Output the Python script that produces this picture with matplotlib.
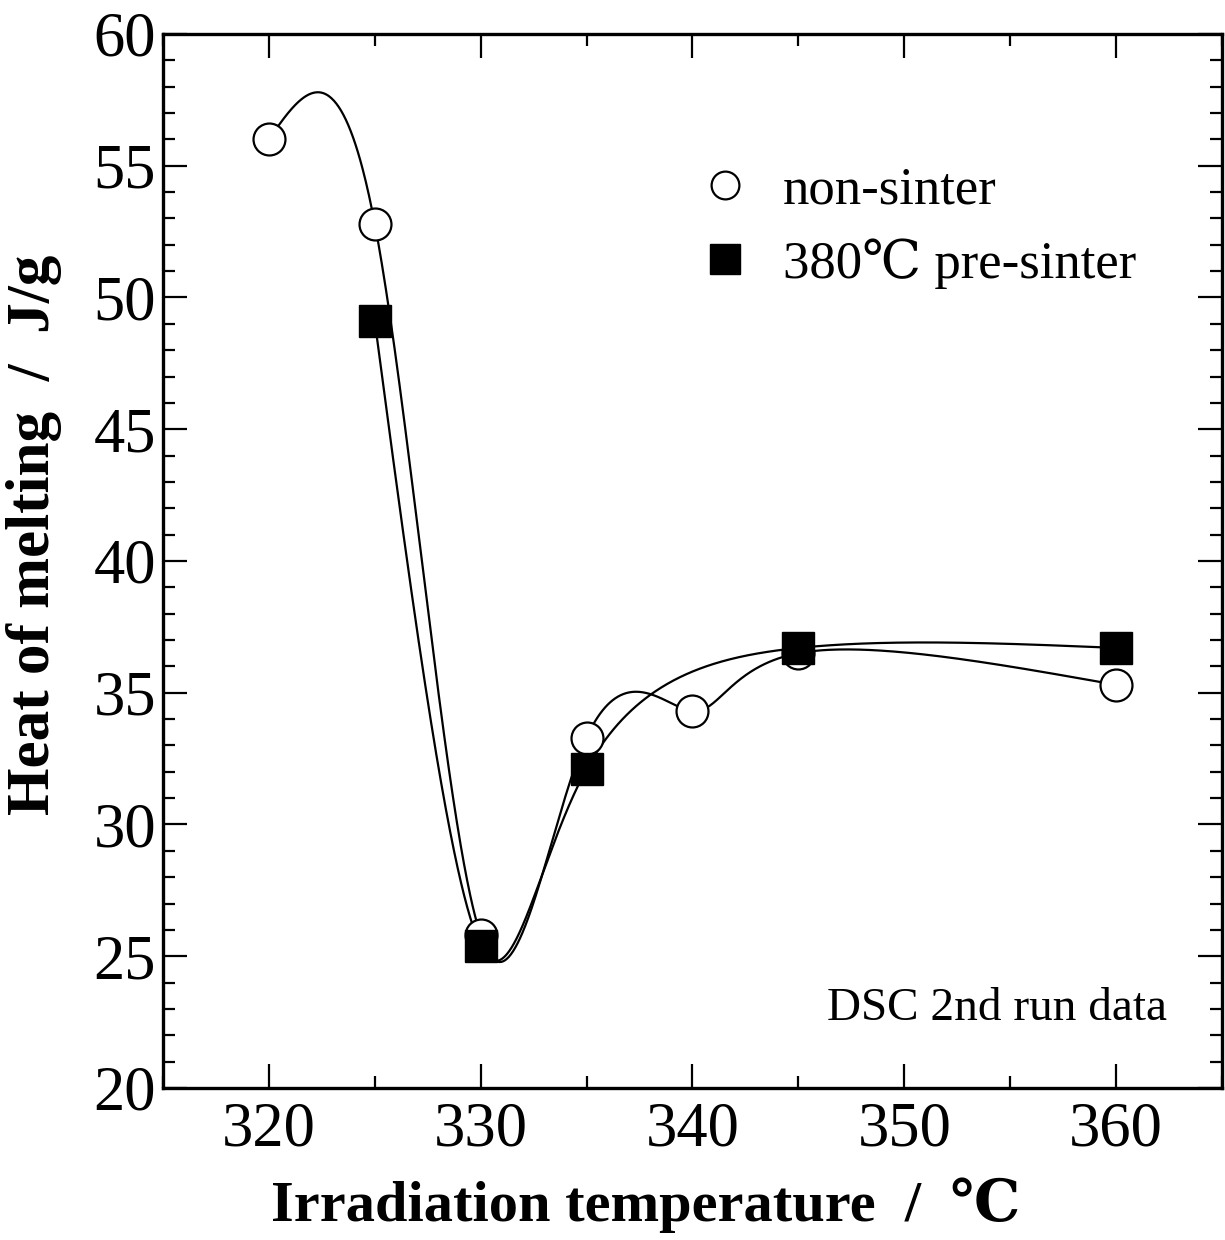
import numpy as np
import matplotlib
matplotlib.use("Agg")
import matplotlib.pyplot as plt
from matplotlib.lines import Line2D
from matplotlib.ticker import MultipleLocator

# ---- data ----
x_non = [320, 325, 330, 335, 340, 345, 360]
y_non = [56.0, 52.8, 25.8, 33.3, 34.3, 36.5, 35.3]
x_pre = [325, 330, 335, 345, 360]
y_pre = [49.1, 25.4, 32.1, 36.7, 36.7]
label_non = "non-sinter"
label_pre = "380\u2103 pre-sinter"
xlabel = "Irradiation temperature  /  \u2103"
ylabel = "Heat of melting  /  J/g"
note = "DSC 2nd run data"


def nat_eval(t, y, ts):
    """Natural cubic spline through (t, y), evaluated at ts."""
    t = np.asarray(t, float); y = np.asarray(y, float)
    k = len(t); h = np.diff(t)
    A = np.zeros((k, k)); b = np.zeros(k)
    A[0, 0] = 1; A[-1, -1] = 1
    for i in range(1, k - 1):
        A[i, i - 1] = h[i - 1]; A[i, i] = 2 * (h[i - 1] + h[i]); A[i, i + 1] = h[i]
        b[i] = 6 * ((y[i + 1] - y[i]) / h[i] - (y[i] - y[i - 1]) / h[i - 1])
    M = np.linalg.solve(A, b)
    idx = np.clip(np.searchsorted(t, ts) - 1, 0, k - 2)
    t0 = t[idx]; t1 = t[idx + 1]; hh = t1 - t0
    return (M[idx] * (t1 - ts) ** 3 / (6 * hh) + M[idx + 1] * (ts - t0) ** 3 / (6 * hh)
            + (y[idx] / hh - M[idx] * hh / 6) * (t1 - ts)
            + (y[idx + 1] / hh - M[idx + 1] * hh / 6) * (ts - t0))


def smooth(x, y, n=800):
    # parametric spline over the point index
    t = np.arange(len(x), dtype=float)
    ts = np.linspace(0, t[-1], n)
    return nat_eval(t, x, ts), nat_eval(t, y, ts)


plt.rcParams["font.family"] = ["Liberation Serif", "DejaVu Serif"]

fig = plt.figure(figsize=(12.25, 12.4), dpi=100)
ax = fig.add_axes([0.133, 0.1226, 0.8646, 0.85])

for xx, yy in [(x_non, y_non), (x_pre, y_pre)]:
    a, b = smooth(xx, yy)
    ax.plot(a, b, color="black", lw=1.6, zorder=2)

ax.plot(x_non, y_non, "o", ms=23, mfc="white", mec="black", mew=1.6, ls="none", zorder=3)
ax.plot(x_pre, y_pre, "s", ms=23, mfc="black", mec="black", mew=1.0, ls="none", zorder=4)

ax.set_xlim(315, 365)
ax.set_ylim(20, 60)
ax.xaxis.set_major_locator(MultipleLocator(10))
ax.xaxis.set_minor_locator(MultipleLocator(5))
ax.yaxis.set_major_locator(MultipleLocator(5))
ax.yaxis.set_minor_locator(MultipleLocator(1))
ax.tick_params(which="both", direction="in", top=True, right=True, width=1.6)
ax.tick_params(which="major", length=17, labelsize=45)
ax.tick_params(which="minor", length=8.5)
ax.tick_params(axis="x", pad=10)
ax.tick_params(axis="y", pad=5)
for s in ax.spines.values():
    s.set_linewidth(2.4)

ax.set_xlabel(xlabel, fontsize=42, fontweight="bold")
ax.xaxis.set_label_coords((646 - 163) / 1059, -0.085)
ax.set_ylabel(ylabel, fontsize=44, fontweight="bold")
ax.yaxis.set_label_coords(-0.095, 0.525)

ax.text(0.948, 0.0645, note, transform=ax.transAxes, fontsize=34, ha="right", va="baseline")

handles = [
    Line2D([], [], marker="o", ls="none", ms=20, mfc="white", mec="black", mew=1.6),
    Line2D([], [], marker="s", ls="none", ms=22, mfc="black", mec="black"),
]
ax.legend(handles, [label_non, label_pre], loc="upper left",
          bbox_to_anchor=((672 - 163) / 1059, (1088 - 140) / 1054),
          frameon=False, fontsize=38, handletextpad=0.6, labelspacing=0.45,
          handlelength=1.0, borderpad=0.0)

fig.savefig("out.png", dpi=100)
